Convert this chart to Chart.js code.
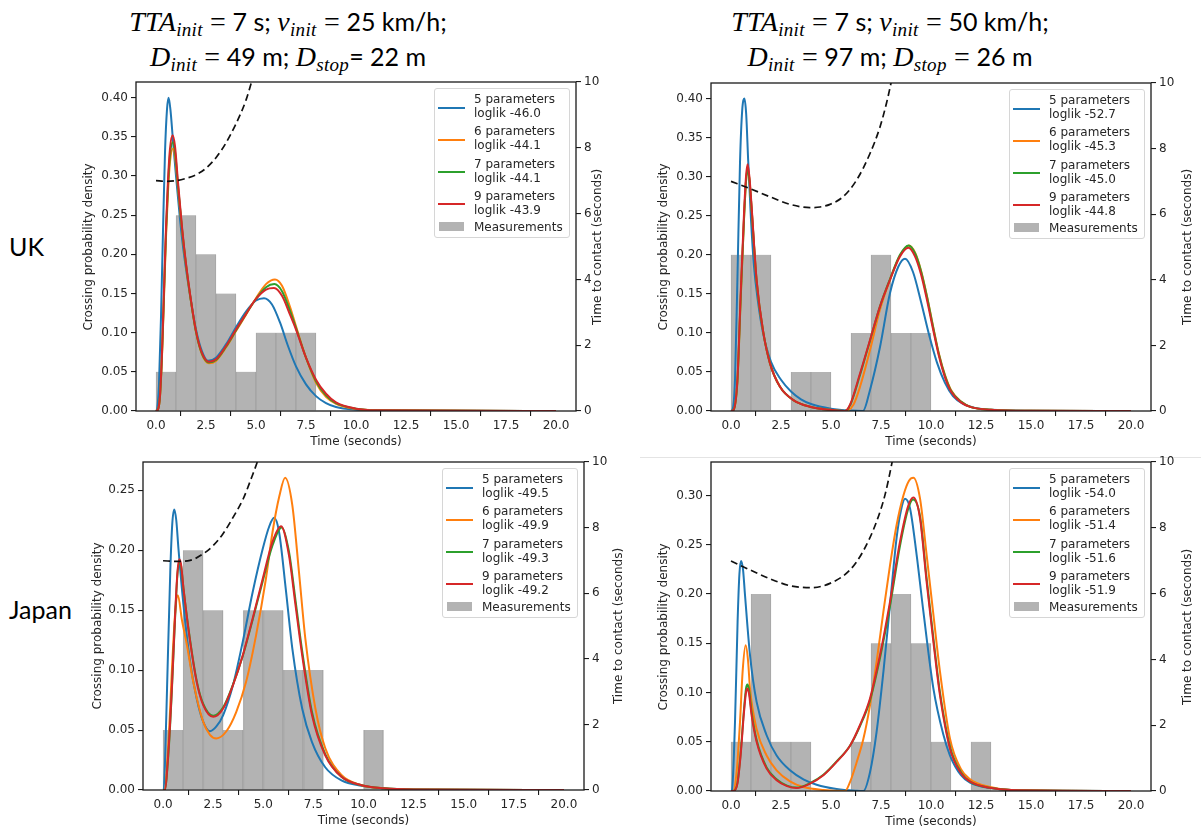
<!DOCTYPE html>
<html>
<head>
<meta charset="utf-8">
<script src="https://cdn.jsdelivr.net/npm/chart.js@4.4.1/dist/chart.umd.min.js"></script>
<style>
  html, body { margin:0; padding:0; background:#fff; }
  body { width:1201px; height:831px; position:relative; overflow:hidden; font-family:"DejaVu Sans", sans-serif; }
  canvas.pc { position:absolute; }
  .title { position:absolute; font-family:Lato, sans-serif; font-size:25px; line-height:35px; color:#000; white-space:nowrap; text-align:center; transform:translateX(-50%); }
  .m { font-family:"Liberation Serif", serif; font-style:italic; font-size:28px; letter-spacing:0.3px; }
  .m .u { font-style:normal; }
  sub { font-size:0.68em; vertical-align:-0.28em; line-height:0; }
  .row { position:absolute; font-family:Lato, sans-serif; font-size:25px; line-height:25px; color:#000; }
  .ylab, .xlab { position:absolute; font-size:12px; line-height:14px; color:#262626; white-space:nowrap; }
  .ylab { transform:translate(-50%,-50%) rotate(-90deg); }
  .xlab { transform:translate(-50%,-50%); }
  .legend { position:absolute; width:136px; height:150px; box-sizing:border-box; border:1px solid #d6d6d6; border-radius:3px; background:rgba(255,255,255,0.85); z-index:5; }
  .legend .txt { position:absolute; left:39px; font-size:12px; line-height:14px; color:#262626; white-space:nowrap; }
  .legend .hdl { position:absolute; left:3px; width:27px; height:2px; }
  .legend .patch { position:absolute; left:4px; width:25px; height:9px; background:rgba(128,128,128,0.6); }
  .sep { position:absolute; background:#e4e4e4; }
</style>
</head>
<body>
<div class="title" style="left:288px; top:4px;">
  <span class="m">TTA<sub>init</sub> <span class="u">=</span></span> 7 s; <span class="m">v<sub>init</sub> <span class="u">=</span></span> 25 km/h;<br>
  <span class="m">D<sub>init</sub> <span class="u">=</span></span> 49 m; <span class="m">D<sub>stop</sub></span>= 22 m
</div>
<div class="title" style="left:890px; top:4px;">
  <span class="m">TTA<sub>init</sub> <span class="u">=</span></span> 7 s; <span class="m">v<sub>init</sub> <span class="u">=</span></span> 50 km/h;<br>
  <span class="m">D<sub>init</sub> <span class="u">=</span></span> 97 m; <span class="m">D<sub>stop</sub> <span class="u">=</span></span> 26 m
</div>
<div class="row" style="left:9px; top:234px;">UK</div>
<div class="row" style="left:9px; top:597px;">Japan</div>
<div class="sep" style="left:640px; top:457px; width:561px; height:1px;"></div>

<canvas class="pc" id="c1"></canvas>
<canvas class="pc" id="c2"></canvas>
<canvas class="pc" id="c3"></canvas>
<canvas class="pc" id="c4"></canvas>

<script>
// ---------- shared ticks / labels ----------
const xTicks = [0, 2.5, 5, 7.5, 10, 12.5, 15, 17.5, 20];
const ttcTicks = [0, 2, 4, 6, 8, 10];
const densTicksUK = [0, 0.05, 0.10, 0.15, 0.20, 0.25, 0.30, 0.35, 0.40];
const densTicksJP25 = [0, 0.05, 0.10, 0.15, 0.20, 0.25];
const densTicksJP50 = [0, 0.05, 0.10, 0.15, 0.20, 0.25, 0.30];
const modelNames = ['5 parameters', '6 parameters', '7 parameters', '9 parameters'];
const binCenters = [0.5, 1.5, 2.5, 3.5, 4.5, 5.5, 6.5, 7.5, 8.5, 9.5, 10.5, 11.5, 12.5];

// ---------- UK, 25 km/h ----------
const uk25Hist = [0.05, 0.25, 0.20, 0.15, 0.05, 0.10, 0.10, 0.10];
const uk25Loglik = ['-46.0', '-44.1', '-44.1', '-43.9'];
const uk25T5 = [0, 0.05, 0.15, 0.25, 0.35, 0.45, 0.55, 0.63, 0.72, 0.85, 1.0, 1.2, 1.4, 1.7, 2.0, 2.3, 2.6, 3.0, 3.5, 4.0, 4.5, 5.0, 5.4, 5.8, 6.2, 6.6, 7.0, 7.5, 8.0, 8.5, 9.0, 10, 11, 20];
const uk25D5 = [0, 0.002, 0.035, 0.12, 0.23, 0.33, 0.385, 0.400, 0.385, 0.345, 0.300, 0.245, 0.200, 0.148, 0.104, 0.076, 0.064, 0.068, 0.085, 0.107, 0.127, 0.141, 0.144, 0.136, 0.113, 0.083, 0.057, 0.034, 0.019, 0.010, 0.005, 0.0015, 0.0005, 0];
const uk25T6 = [0, 0.1, 0.2, 0.3, 0.4, 0.5, 0.6, 0.7, 0.85, 0.95, 1.1, 1.3, 1.5, 1.7, 2.0, 2.3, 2.65, 3.0, 3.5, 4.0, 4.5, 5.0, 5.5, 5.95, 6.3, 6.7, 7.0, 7.5, 8.0, 8.5, 9.0, 10, 11, 20];
const uk25D6 = [0, 0.002, 0.018, 0.07, 0.145, 0.222, 0.28, 0.318, 0.335, 0.325, 0.285, 0.232, 0.186, 0.148, 0.101, 0.072, 0.061, 0.064, 0.081, 0.102, 0.123, 0.144, 0.162, 0.168, 0.160, 0.133, 0.108, 0.068, 0.036, 0.018, 0.009, 0.0025, 0.001, 0];
const uk25T7 = [0, 0.1, 0.2, 0.3, 0.4, 0.5, 0.6, 0.7, 0.84, 0.95, 1.1, 1.3, 1.5, 1.7, 2.0, 2.3, 2.65, 3.0, 3.5, 4.0, 4.5, 5.0, 5.5, 5.92, 6.3, 6.7, 7.0, 7.5, 8.0, 8.5, 9.0, 10, 11, 20];
const uk25D7 = [0, 0.002, 0.019, 0.072, 0.15, 0.228, 0.288, 0.327, 0.343, 0.331, 0.288, 0.233, 0.187, 0.149, 0.101, 0.073, 0.062, 0.065, 0.082, 0.103, 0.124, 0.143, 0.158, 0.162, 0.153, 0.128, 0.106, 0.068, 0.038, 0.020, 0.010, 0.003, 0.001, 0];
const uk25T9 = [0, 0.1, 0.2, 0.3, 0.4, 0.5, 0.6, 0.7, 0.83, 0.95, 1.1, 1.3, 1.5, 1.7, 2.0, 2.3, 2.65, 3.0, 3.5, 4.0, 4.5, 5.0, 5.5, 5.9, 6.3, 6.7, 7.0, 7.5, 8.0, 8.5, 9.0, 10, 11, 20];
const uk25D9 = [0, 0.002, 0.02, 0.075, 0.155, 0.235, 0.295, 0.335, 0.352, 0.338, 0.292, 0.235, 0.188, 0.150, 0.102, 0.074, 0.063, 0.066, 0.083, 0.104, 0.124, 0.143, 0.155, 0.157, 0.147, 0.123, 0.104, 0.068, 0.040, 0.022, 0.011, 0.003, 0.001, 0];
const uk25TtcT = [0, 0.5, 1.0, 1.5, 2.0, 2.5, 3.0, 3.5, 4.0, 4.5, 4.8, 5.2];
const uk25Ttc = [7.0, 6.98, 7.0, 7.07, 7.18, 7.38, 7.70, 8.15, 8.73, 9.45, 10.05, 10.9];

// ---------- UK, 50 km/h ----------
const uk50Hist = [0.20, 0.20, 0, 0.05, 0.05, 0, 0.10, 0.20, 0.10, 0.10];
const uk50Loglik = ['-52.7', '-45.3', '-45.0', '-44.8'];
const uk50T5 = [0, 0.08, 0.2, 0.32, 0.45, 0.56, 0.67, 0.76, 0.86, 1.0, 1.15, 1.35, 1.6, 2.0, 2.5, 3.0, 3.5, 4.0, 5.0, 6.0, 6.6, 6.95, 7.45, 7.95, 8.37, 8.7, 9.1, 9.5, 9.9, 10.3, 10.7, 11.1, 11.6, 12.2, 13, 15, 20];
const uk50D5 = [0, 0.002, 0.04, 0.168, 0.318, 0.385, 0.400, 0.38, 0.32, 0.245, 0.185, 0.14, 0.10, 0.063, 0.040, 0.025, 0.015, 0.009, 0.003, 0.0005, 0, 0.027, 0.082, 0.151, 0.185, 0.195, 0.178, 0.14, 0.098, 0.062, 0.036, 0.019, 0.009, 0.004, 0.0015, 0.0003, 0];
const uk50T6 = [0, 0.12, 0.32, 0.48, 0.65, 0.75, 0.83, 0.92, 1.03, 1.28, 1.62, 1.95, 2.45, 3.12, 3.95, 4.95, 5.7, 6.12, 6.45, 6.95, 7.45, 7.95, 8.45, 8.9, 9.2, 9.5, 9.8, 10.1, 10.4, 10.7, 11.0, 11.5, 12.0, 13, 15, 20];
const uk50D6 = [0, 0.001, 0.038, 0.14, 0.245, 0.294, 0.312, 0.297, 0.259, 0.166, 0.10, 0.061, 0.031, 0.014, 0.0055, 0.0015, 0, 0.008, 0.031, 0.078, 0.13, 0.168, 0.199, 0.212, 0.203, 0.180, 0.147, 0.109, 0.073, 0.046, 0.027, 0.012, 0.005, 0.0015, 0.0002, 0];
const uk50T7 = [0, 0.12, 0.32, 0.48, 0.65, 0.75, 0.83, 0.92, 1.03, 1.28, 1.62, 1.95, 2.45, 3.12, 3.95, 4.95, 5.7, 5.95, 6.45, 6.95, 7.45, 7.95, 8.45, 8.88, 9.2, 9.5, 9.8, 10.1, 10.4, 10.7, 11.0, 11.5, 12.0, 13, 15, 20];
const uk50D7 = [0, 0.001, 0.038, 0.142, 0.246, 0.294, 0.310, 0.296, 0.259, 0.167, 0.10, 0.061, 0.031, 0.014, 0.0055, 0.0015, 0, 0.007, 0.046, 0.090, 0.134, 0.169, 0.200, 0.212, 0.202, 0.179, 0.146, 0.108, 0.072, 0.045, 0.026, 0.012, 0.005, 0.0015, 0.0002, 0];
const uk50T9 = [0, 0.12, 0.32, 0.48, 0.65, 0.75, 0.83, 0.92, 1.03, 1.28, 1.62, 1.95, 2.45, 3.12, 3.95, 4.95, 5.7, 5.95, 6.45, 6.95, 7.45, 7.95, 8.45, 8.87, 9.2, 9.5, 9.8, 10.1, 10.4, 10.7, 11.0, 11.5, 12.0, 13, 15, 20];
const uk50D9 = [0, 0.001, 0.04, 0.147, 0.253, 0.30, 0.316, 0.30, 0.262, 0.168, 0.10, 0.061, 0.031, 0.014, 0.0055, 0.0015, 0, 0.008, 0.048, 0.091, 0.134, 0.168, 0.198, 0.209, 0.198, 0.175, 0.142, 0.105, 0.070, 0.043, 0.025, 0.011, 0.005, 0.0015, 0.0002, 0];
const uk50TtcT = [0, 0.95, 1.95, 2.95, 3.95, 4.45, 4.95, 5.6, 6.28, 6.95, 7.45, 7.78, 8.0, 8.25];
const uk50Ttc = [7.0, 6.78, 6.53, 6.3, 6.2, 6.22, 6.3, 6.53, 7.04, 7.85, 8.66, 9.4, 10.0, 10.8];

// ---------- Japan, 25 km/h ----------
const jp25Hist = [0.05, 0.20, 0.15, 0.05, 0.15, 0.15, 0.10, 0.10, 0, 0, 0.05];
const jp25Loglik = ['-49.5', '-49.9', '-49.3', '-49.2'];
const jp25T5 = [0, 0.03, 0.1, 0.2, 0.36, 0.46, 0.56, 0.66, 0.77, 1.02, 1.35, 1.68, 2.0, 2.34, 2.66, 3.0, 3.49, 3.98, 4.47, 4.97, 5.3, 5.54, 5.79, 6.12, 6.45, 6.94, 7.43, 8.09, 8.9, 9.9, 11, 12.5, 20];
const jp25D5 = [0, 0, 0.025, 0.085, 0.182, 0.222, 0.234, 0.225, 0.201, 0.154, 0.107, 0.076, 0.057, 0.049, 0.053, 0.0625, 0.0875, 0.124, 0.165, 0.201, 0.220, 0.227, 0.215, 0.168, 0.118, 0.068, 0.040, 0.019, 0.008, 0.0036, 0.0015, 0.0005, 0];
const jp25T6 = [0, 0.07, 0.28, 0.44, 0.61, 0.74, 0.94, 1.18, 1.51, 2.0, 2.34, 2.66, 3.16, 3.65, 4.14, 4.64, 5.13, 5.46, 5.8, 6.09, 6.45, 6.78, 7.1, 7.6, 8.09, 8.9, 9.9, 11, 12.5, 20];
const jp25D6 = [0, 0, 0.043, 0.099, 0.149, 0.1625, 0.142, 0.122, 0.09, 0.057, 0.046, 0.043, 0.049, 0.065, 0.090, 0.129, 0.176, 0.215, 0.245, 0.2605, 0.2375, 0.182, 0.126, 0.068, 0.035, 0.0125, 0.004, 0.0015, 0.0005, 0];
const jp25T7 = [0, 0.08, 0.28, 0.44, 0.61, 0.72, 0.81, 0.9, 1.02, 1.35, 1.68, 2.0, 2.5, 3.0, 3.49, 3.98, 4.47, 4.97, 5.46, 5.92, 6.28, 6.61, 6.94, 7.43, 8.09, 8.9, 9.9, 11, 12.5, 20];
const jp25D7 = [0, 0, 0.033, 0.083, 0.147, 0.180, 0.190, 0.187, 0.168, 0.125, 0.091, 0.072, 0.062, 0.069, 0.088, 0.112, 0.142, 0.174, 0.204, 0.219, 0.199, 0.158, 0.116, 0.065, 0.030, 0.011, 0.004, 0.0015, 0.0005, 0];
const jp25T9 = [0, 0.08, 0.28, 0.44, 0.61, 0.72, 0.81, 0.9, 1.02, 1.35, 1.68, 2.0, 2.5, 3.0, 3.49, 3.98, 4.47, 4.97, 5.46, 5.89, 6.28, 6.61, 6.94, 7.43, 8.09, 8.9, 9.9, 11, 12.5, 20];
const jp25D9 = [0, 0, 0.035, 0.085, 0.149, 0.182, 0.1925, 0.188, 0.168, 0.124, 0.090, 0.071, 0.061, 0.068, 0.0875, 0.1125, 0.143, 0.176, 0.207, 0.220, 0.196, 0.154, 0.1125, 0.0625, 0.029, 0.011, 0.004, 0.0015, 0.0005, 0];
const jp25TtcT = [0, 0.69, 1.35, 2.0, 2.5, 3.0, 3.5, 4.0, 4.4, 4.7, 5.0];
const jp25Ttc = [6.99, 6.97, 7.0, 7.2, 7.45, 7.82, 8.32, 8.88, 9.5, 10.0, 10.6];

// ---------- Japan, 50 km/h ----------
const jp50Hist = [0.05, 0.20, 0.05, 0.05, 0, 0, 0.05, 0.15, 0.20, 0.15, 0.05, 0, 0.05];
const jp50Loglik = ['-54.0', '-51.4', '-51.6', '-51.9'];
const jp50T5 = [0, 0.05, 0.2, 0.33, 0.42, 0.5, 0.6, 0.7, 0.95, 1.28, 1.78, 2.28, 2.95, 3.62, 4.28, 5.28, 6.3, 6.62, 6.95, 7.28, 7.62, 7.95, 8.28, 8.5, 8.7, 8.95, 9.28, 9.62, 10.12, 10.62, 10.95, 11.5, 11.95, 12.95, 14, 20];
const jp50D5 = [0, 0.001, 0.07, 0.172, 0.220, 0.2336, 0.225, 0.199, 0.138, 0.0905, 0.0566, 0.036, 0.021, 0.0119, 0.0064, 0.002, 0.0002, 0, 0.019, 0.06, 0.121, 0.189, 0.257, 0.285, 0.2966, 0.287, 0.24, 0.182, 0.104, 0.057, 0.036, 0.016, 0.0085, 0.003, 0.001, 0];
const jp50T6 = [0, 0.1, 0.28, 0.45, 0.58, 0.73, 0.85, 0.95, 1.28, 1.78, 2.28, 2.95, 3.62, 4.62, 5.7, 5.95, 6.28, 6.62, 6.95, 7.28, 7.62, 7.95, 8.28, 8.62, 8.9, 9.12, 9.45, 9.78, 10.12, 10.45, 10.95, 11.5, 11.95, 12.95, 14, 20];
const jp50D6 = [0, 0, 0.019, 0.07, 0.121, 0.148, 0.133, 0.104, 0.063, 0.036, 0.021, 0.0098, 0.004, 0.001, 0, 0.009, 0.029, 0.053, 0.087, 0.131, 0.182, 0.229, 0.27, 0.30, 0.315, 0.318, 0.297, 0.24, 0.179, 0.121, 0.053, 0.022, 0.012, 0.004, 0.001, 0];
const jp50T7 = [0, 0.12, 0.32, 0.48, 0.65, 0.75, 0.82, 0.9, 1.03, 1.28, 1.78, 2.28, 2.8, 3.28, 3.95, 4.62, 5.28, 5.95, 6.45, 6.95, 7.45, 7.95, 8.45, 8.87, 9.1, 9.45, 9.78, 10.12, 10.45, 10.95, 11.5, 12.0, 13, 14, 20];
const jp50D7 = [0, 0, 0.008, 0.038, 0.083, 0.104, 0.108, 0.103, 0.080, 0.052, 0.024, 0.012, 0.0055, 0.0035, 0.008, 0.0165, 0.030, 0.046, 0.066, 0.092, 0.135, 0.188, 0.249, 0.287, 0.296, 0.279, 0.216, 0.155, 0.100, 0.045, 0.019, 0.009, 0.003, 0.001, 0];
const jp50T9 = [0, 0.12, 0.32, 0.48, 0.65, 0.75, 0.82, 0.9, 1.03, 1.28, 1.78, 2.28, 2.8, 3.28, 3.95, 4.62, 5.28, 5.95, 6.45, 6.95, 7.45, 7.95, 8.45, 8.87, 9.12, 9.45, 9.78, 10.12, 10.45, 10.95, 11.5, 12.0, 13, 14, 20];
const jp50D9 = [0, 0, 0.0075, 0.036, 0.080, 0.100, 0.104, 0.099, 0.077, 0.050, 0.0227, 0.011, 0.005, 0.003, 0.0075, 0.016, 0.0295, 0.046, 0.067, 0.094, 0.138, 0.192, 0.253, 0.290, 0.298, 0.277, 0.2125, 0.1515, 0.097, 0.043, 0.018, 0.009, 0.003, 0.001, 0];
const jp50TtcT = [0, 0.95, 1.95, 2.95, 3.95, 4.95, 5.95, 6.6, 7.28, 7.7, 8.03, 8.3];
const jp50Ttc = [6.99, 6.72, 6.45, 6.24, 6.18, 6.31, 6.72, 7.28, 8.19, 9.0, 9.92, 10.8];

// ---------- styling ----------
const modelColors = ['#1f77b4', '#ff7f0e', '#2ca02c', '#d62728'];
const inkColor = '#262626';

// panel geometry (canvas box + fixed axis band sizes)
const panels = [
  { id:'c1', left:86,  top:70,  width:520, height:371, lw:50, rw:30, xh:30, tp:12, rlabDx:21, llabDx:48, yMax:0.42,   yTicks:densTicksUK,
    hist:uk25Hist, loglik:uk25Loglik, t:[uk25T5,uk25T6,uk25T7,uk25T9], d:[uk25D5,uk25D6,uk25D7,uk25D9], ttcT:uk25TtcT, ttc:uk25Ttc },
  { id:'c2', left:661, top:71,  width:520, height:370, lw:50, rw:30, xh:30, tp:12, rlabDx:36, llabDx:48, yMax:0.42,   yTicks:densTicksUK,
    hist:uk50Hist, loglik:uk50Loglik, t:[uk50T5,uk50T6,uk50T7,uk50T9], d:[uk50D5,uk50D6,uk50D7,uk50D9], ttcT:uk50TtcT, ttc:uk50Ttc },
  { id:'c3', left:93,  top:450, width:521, height:370, lw:50, rw:30, xh:30, tp:12, rlabDx:34, llabDx:46, yMax:0.2736, yTicks:densTicksJP25,
    hist:jp25Hist, loglik:jp25Loglik, t:[jp25T5,jp25T6,jp25T7,jp25T9], d:[jp25D5,jp25D6,jp25D7,jp25D9], ttcT:jp25TtcT, ttc:jp25Ttc },
  { id:'c4', left:661, top:450, width:520, height:371, lw:50, rw:30, xh:30, tp:12, rlabDx:36, llabDx:48, yMax:0.334,  yTicks:densTicksJP50,
    hist:jp50Hist, loglik:jp50Loglik, t:[jp50T5,jp50T6,jp50T7,jp50T9], d:[jp50D5,jp50D6,jp50D7,jp50D9], ttcT:jp50TtcT, ttc:jp50Ttc }
];

Chart.defaults.font.family = '"DejaVu Sans", sans-serif';
Chart.defaults.font.size = 12;
Chart.defaults.color = inkColor;

const framePlugin = {
  id: 'frame',
  afterDatasetsDraw(chart) {
    const a = chart.chartArea, ctx = chart.ctx;
    ctx.save();
    ctx.strokeStyle = '#1a1a1a';
    ctx.lineWidth = 1.3;
    ctx.strokeRect(a.left, a.top, a.right - a.left, a.bottom - a.top);
    ctx.restore();
  }
};

function tickGrid() {
  return { display:true, drawOnChartArea:false, drawTicks:true, tickLength:5, color:'#1a1a1a', lineWidth:1.1 };
}

function addHtml(cls, text, x, y) {
  const el = document.createElement('div');
  el.className = cls;
  el.textContent = text;
  el.style.left = x + 'px';
  el.style.top = y + 'px';
  document.body.appendChild(el);
  return el;
}

panels.forEach(p => {
  const cv = document.getElementById(p.id);
  cv.width = p.width; cv.height = p.height;
  cv.style.left = p.left + 'px'; cv.style.top = p.top + 'px';
  cv.style.width = p.width + 'px'; cv.style.height = p.height + 'px';

  const datasets = [];
  datasets.push({
    type:'bar', label:'Measurements',
    data: p.hist.map((v, i) => ({ x: binCenters[i], y: v })),
    backgroundColor:'rgba(128,128,128,0.6)',
    borderColor:'rgba(95,95,95,0.35)',
    borderWidth:{ left:0.6, right:0.6, top:0, bottom:0 },
    borderSkipped:false,
    barPercentage:1, categoryPercentage:1,
    yAxisID:'yL', order:10
  });
  p.t.forEach((tArr, k) => {
    datasets.push({
      type:'line', label: modelNames[k],
      data: tArr.map((x, i) => ({ x, y: p.d[k][i] })),
      borderColor: modelColors[k], backgroundColor: modelColors[k],
      borderWidth:2, pointRadius:0, fill:false,
      cubicInterpolationMode:'monotone',
      yAxisID:'yL', order: 5 - k
    });
  });
  datasets.push({
    type:'line', label:'Time to contact',
    data: p.ttcT.map((x, i) => ({ x, y: p.ttc[i] })),
    borderColor:'#111', borderWidth:1.7, borderDash:[7, 4],
    pointRadius:0, fill:false, cubicInterpolationMode:'monotone',
    yAxisID:'yR', order:0
  });

  new Chart(cv, {
    type:'line',
    data:{ datasets },
    plugins:[framePlugin],
    options:{
      responsive:false, animation:false, devicePixelRatio:1, events:[],
      layout:{ padding:{ top:p.tp, left:0, right:0, bottom:0 } },
      plugins:{ legend:{ display:false }, tooltip:{ enabled:false }, title:{ display:false } },
      scales:{
        x:{
          type:'linear', min:-1, max:21, offset:false,
          grid: tickGrid(), border:{ display:false },
          afterBuildTicks: s => { s.ticks = xTicks.map(v => ({ value:v })); },
          ticks:{ padding:3, maxRotation:0, autoSkip:false, callback: v => Number(v).toFixed(1) },
          afterFit: s => { s.height = p.xh; }
        },
        yL:{
          type:'linear', position:'left', min:0, max:p.yMax,
          grid: tickGrid(), border:{ display:false },
          afterBuildTicks: s => { s.ticks = p.yTicks.map(v => ({ value:v })); },
          ticks:{ padding:3, autoSkip:false, callback: v => Number(v).toFixed(2) },
          afterFit: s => { s.width = p.lw; }
        },
        yR:{
          type:'linear', position:'right', min:0, max:10,
          grid: tickGrid(), border:{ display:false },
          afterBuildTicks: s => { s.ticks = ttcTicks.map(v => ({ value:v })); },
          ticks:{ padding:3, autoSkip:false, callback: v => String(v) },
          afterFit: s => { s.width = p.rw; }
        }
      }
    }
  });

  // axis titles & legend (HTML overlays positioned from the fixed panel geometry)
  const L = p.left + p.lw, R = p.left + p.width - p.rw;
  const T = p.top + p.tp, B = p.top + p.height - p.xh;
  addHtml('ylab', 'Crossing probability density', L - p.llabDx, (T + B) / 2);
  addHtml('ylab', 'Time to contact (seconds)', R + p.rlabDx, (T + B) / 2);
  addHtml('xlab', 'Time (seconds)', (L + R) / 2, B + 30);

  const lg = document.createElement('div');
  lg.className = 'legend';
  lg.style.left = (R - 6 - 136) + 'px';
  lg.style.top = (T + 6) + 'px';
  modelNames.forEach((name, k) => {
    const h = document.createElement('div');
    h.className = 'hdl';
    h.style.top = (17.5 + k * 32.3) + 'px';
    h.style.background = modelColors[k];
    lg.appendChild(h);
    const tx = document.createElement('div');
    tx.className = 'txt';
    tx.style.top = (3 + k * 32.3) + 'px';
    tx.innerHTML = name + '<br>loglik ' + p.loglik[k];
    lg.appendChild(tx);
  });
  const pa = document.createElement('div');
  pa.className = 'patch';
  pa.style.top = '133px';
  lg.appendChild(pa);
  const mt = document.createElement('div');
  mt.className = 'txt';
  mt.style.top = '130.5px';
  mt.textContent = 'Measurements';
  lg.appendChild(mt);
  document.body.appendChild(lg);
});
</script>
</body>
</html>
